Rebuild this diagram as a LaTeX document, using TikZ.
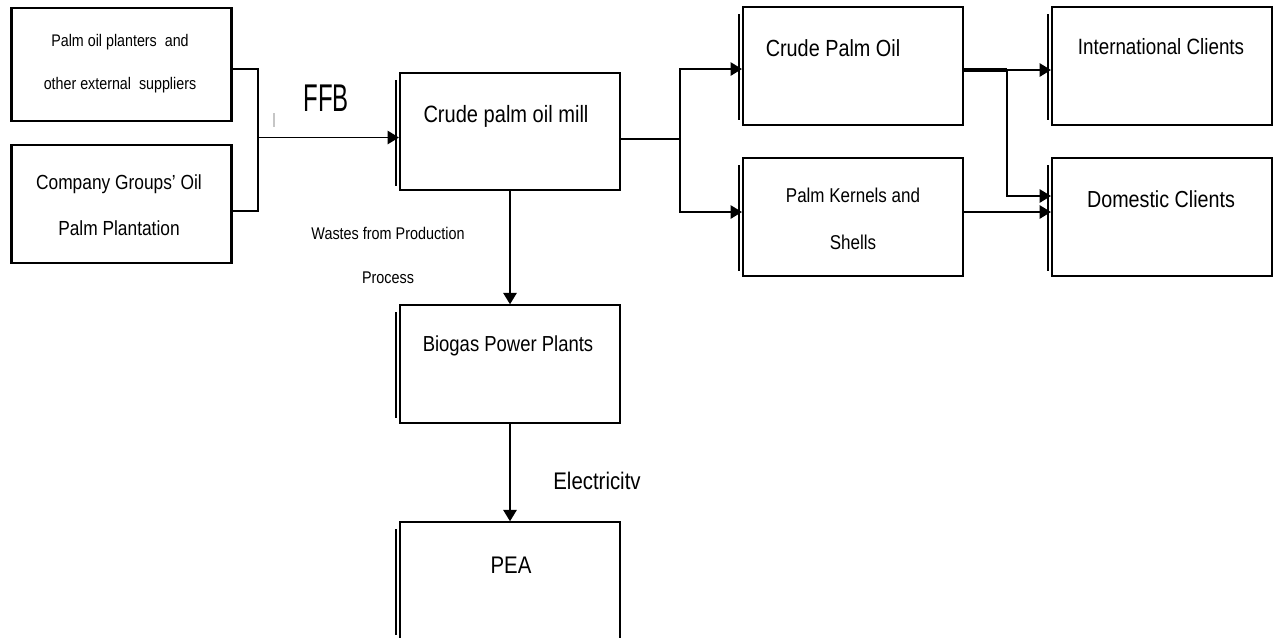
\documentclass[tikz,border=0pt]{standalone}
\usepackage{fontspec}
\setmainfont{Liberation Sans}[FakeStretch=0.85]
\newfontfamily\ffbfont{Liberation Sans}[FakeStretch=0.62]
\usetikzlibrary{arrows.meta}

\begin{document}
\begin{tikzpicture}[x=0.75pt,y=-0.75pt,
  box/.style={draw,line width=1.6pt,minimum width=165pt,minimum height=88pt,inner sep=0pt},
  arr/.style={-{Triangle[length=8.5pt,width=10pt]},line width=1.3pt},
  link/.style={line width=1.3pt},
  txt/.style={align=center,inner sep=0pt}]
\useasboundingbox[fill=white] (0,0) rectangle (1276,637);

\node[box,minimum height=84.75pt] (sup) at (121.5,64.5) {};
\node[box] (grp) at (121.5,204) {};
\node[box] (mill) at (510,131.5) {};
\node[box] (cpo) at (853,66) {};
\node[box] (pk) at (853,217) {};
\node[box] (intl) at (1162,66) {};
\node[box] (dom) at (1162,217) {};
\node[box] (bio) at (510,364) {};
\node[box] (pea) at (510,581) {};

\foreach \b in {mill,cpo,pk,intl,dom,bio,pea}
  \draw[line width=1.2pt] ([xshift=-2pt,yshift=-6pt]\b.north west) -- ([xshift=-2pt,yshift=4pt]\b.south west);

\node[txt,font=\fontsize{12.6}{32}\selectfont] (suptxt) at (120,63.5) {Palm oil planters\ \ and\\other external\ \ suppliers};
\node[txt,font=\fontsize{15.3}{34.5}\selectfont] (grptxt) at (119,205) {Company Groups' Oil\\Palm Plantation};
\node[txt,font=\fontsize{17.7}{20}\selectfont] (milltxt) at (506,116) {Crude palm oil mill};
\node[txt,font=\fontsize{17.5}{20}\selectfont] (cpotxt) at (833,48) {Crude Palm Oil};
\node[txt,font=\fontsize{16.6}{20}\selectfont] (intltxt) at (1161,47) {International Clients};
\node[txt,font=\fontsize{17.4}{20}\selectfont] (domtxt) at (1161,199) {Domestic Clients};
\node[txt,font=\fontsize{15}{35}\selectfont] (pktxt) at (853,219) {Palm Kernels and\\Shells};
\node[txt,font=\fontsize{16.3}{20}\selectfont] (biotxt) at (508,346) {Biogas Power Plants};
\node[txt,font=\fontsize{18}{20}\selectfont] (peatxt) at (511,565) {PEA};
\node[txt,font=\fontsize{18}{20}\selectfont] (electxt) at (597,481) {Electricitv};
\node[txt,font=\fontsize{12.7}{33}\selectfont] (wastetxt) at (388,255) {Wastes from Production\\Process};
\node[txt,font=\ffbfont\fontsize{29}{30}\selectfont] (ffbtxt) at (326,98) {FFB};

\draw[gray!45,line width=0.8pt] (274,113) -- (274,127);

\coordinate (join) at (258,137.5);
\draw[link] (sup.east) ++(0,4.5) -| (join);
\draw[link] (grp.east) ++(0,7) -| (join);
\draw[arr] (join) -- (join -| mill.west);

\coordinate (split) at (680,139);
\draw[link] (mill.east) ++(0,7.5) -- (split);
\draw[arr] (split) |- ([yshift=-2.25pt]cpo.west);
\draw[arr] (split) |- ([yshift=3.75pt]pk.west);

\coordinate (fork) at (1007,70);
\draw[line width=2.6pt] ([yshift=-3pt]cpo.east) -- (fork);
\draw[arr] ([yshift=-3pt]cpo.east) -- ([yshift=-3pt]intl.west);
\draw[arr] (fork) |- ([yshift=15.75pt]dom.west);
\draw[arr] ([yshift=3.75pt]pk.east) -- ([yshift=3.75pt]dom.west);

\draw[arr] (mill) -- (bio);
\draw[arr] (bio) -- (pea);
\end{tikzpicture}
\end{document}
